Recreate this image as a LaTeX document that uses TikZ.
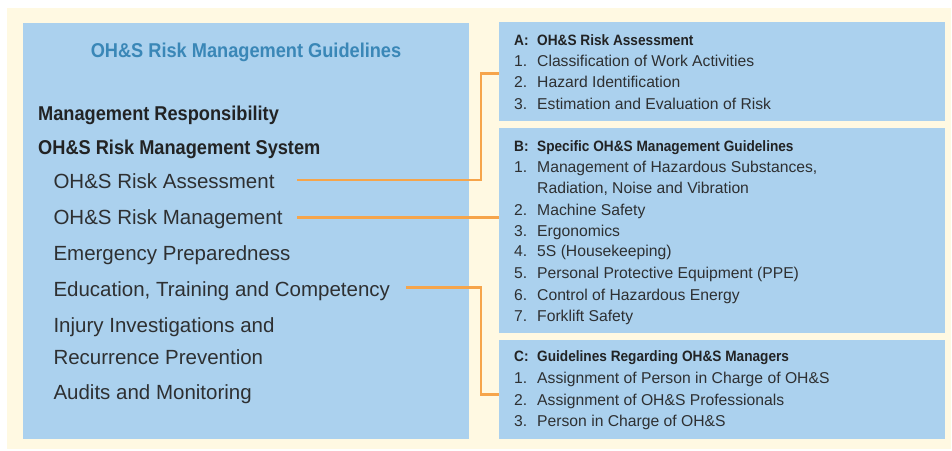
\documentclass[tikz,border=0pt]{standalone}
\usepackage{fontspec}
\setmainfont{Liberation Sans}
\newfontfamily\condfont{Liberation Sans}[FakeStretch=0.91]
\usetikzlibrary{calc}

\definecolor{panelcream}{HTML}{FFF9E2}
\definecolor{boxblue}{HTML}{ABD1EE}
\definecolor{linkorange}{HTML}{F6A54B}
\definecolor{headblue}{HTML}{3A87B7}
\definecolor{inktext}{HTML}{2E3032}
\definecolor{inkbold}{HTML}{222324}

% numbered entry: fixed-width label column, then the text
\newcommand{\entry}[2]{\makebox[23pt][l]{#1}#2}

\begin{document}
\begin{tikzpicture}[x=1pt,y=-1pt,
  panel/.style={fill=boxblue, draw=none, inner sep=0pt, anchor=north west},
  txt/.style={anchor=base west, inner sep=0pt, text=inktext},
  lefthead/.style={txt, text=inkbold, font=\condfont\bfseries\fontsize{20}{24}\selectfont},
  leftitem/.style={txt, font=\fontsize{20.5}{24}\selectfont},
  righthead/.style={txt, text=inkbold, font=\condfont\bfseries\fontsize{15}{18}\selectfont},
  rightitem/.style={txt, font=\fontsize{15.7}{18}\selectfont},
  link/.style={draw=linkorange, line width=2.7pt}
]
\useasboundingbox (0,0) rectangle (952,450);
\fill[white] (0,0) rectangle (952,450);
\fill[panelcream] (7,8) rectangle (951,449);

% left panel
\node[panel, minimum width=446pt, minimum height=416pt] (left) at (23,23) {};
\node[anchor=base, inner sep=0pt, text=headblue,
      font=\condfont\bfseries\fontsize{20}{24}\selectfont] (title) at (246,57)
      {OH\&S Risk Management Guidelines};
\node[lefthead] (mr) at (38,120.7) {Management Responsibility};
\node[lefthead] (ms) at (38,154) {OH\&S Risk Management System};
\node[leftitem] (ra) at (53.3,188.3) {OH\&S Risk Assessment};
\node[leftitem] (rm) at (53.3,224) {OH\&S Risk Management};
\node[leftitem] (ep) at (53.3,260) {Emergency Preparedness};
\node[leftitem] (ed) at (53.3,296) {Education, Training and Competency};
\node[leftitem] (ii) at (53.3,332.3) {Injury Investigations and};
\node[leftitem] (rp) at (53.3,364) {Recurrence Prevention};
\node[leftitem] (am) at (53.3,399) {Audits and Monitoring};

% right panels
\node[panel, minimum width=446pt, minimum height=99pt] (boxA) at (499,22) {};
\node[panel, minimum width=446pt, minimum height=205pt] (boxB) at (499,128) {};
\node[panel, minimum width=446pt, minimum height=99pt] (boxC) at (499,340) {};

% A
\node[righthead] (a0) at (514,45) {\entry{A:}{OH\&S Risk Assessment}};
\node[rightitem] (a1) at (514,66.5) {\entry{1.}{Classification of Work Activities}};
\node[rightitem] (a2) at (514,87.8) {\entry{2.}{Hazard Identification}};
\node[rightitem] (a3) at (514,109) {\entry{3.}{Estimation and Evaluation of Risk}};

% B
\node[righthead] (b0) at (514,151) {\entry{B:}{Specific OH\&S Management Guidelines}};
\node[rightitem] (b1) at (514,172.3) {\entry{1.}{Management of Hazardous Substances,}};
\node[rightitem] (b1b) at (514,193.3) {\entry{}{Radiation, Noise and Vibration}};
\node[rightitem] (b2) at (514,215) {\entry{2.}{Machine Safety}};
\node[rightitem] (b3) at (514,236) {\entry{3.}{Ergonomics}};
\node[rightitem] (b4) at (514,256.9) {\entry{4.}{5S (Housekeeping)}};
\node[rightitem] (b5) at (514,278.3) {\entry{5.}{Personal Protective Equipment (PPE)}};
\node[rightitem] (b6) at (514,300) {\entry{6.}{Control of Hazardous Energy}};
\node[rightitem] (b7) at (514,321) {\entry{7.}{Forklift Safety}};

% C
\node[righthead] (c0) at (514,361.7) {\entry{C:}{Guidelines Regarding OH\&S Managers}};
\node[rightitem] (c1) at (514,383.3) {\entry{1.}{Assignment of Person in Charge of OH\&S}};
\node[rightitem] (c2) at (514,405) {\entry{2.}{Assignment of OH\&S Professionals}};
\node[rightitem] (c3) at (514,426.3) {\entry{3.}{Person in Charge of OH\&S}};

% connectors
\coordinate (ra-out) at (297,180);
\coordinate (rm-out) at (297,217.3);
\coordinate (ed-out) at (406,287.5);
\draw[link] (ra-out) -| ($(boxA.west)+(-18,1.5)$) -- ($(boxA.west)+(0,1.5)$);
\draw[link] (rm-out) -- (rm-out -| boxB.west);
\draw[link] (ed-out) -| ($(boxC.west)+(-18,4.5)$) -- ($(boxC.west)+(0,4.5)$);
\end{tikzpicture}
\end{document}
